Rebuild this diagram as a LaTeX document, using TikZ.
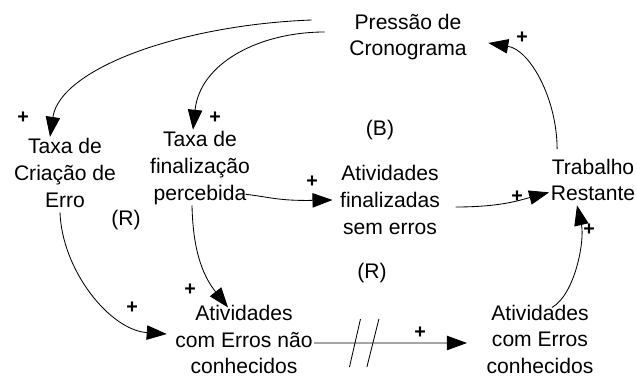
\documentclass[tikz,border=0pt]{standalone}
\usepackage{fontspec}
\setmainfont{Liberation Sans}
\usetikzlibrary{arrows.meta}
\usetikzlibrary{calc}

\begin{document}
\begin{tikzpicture}[
        every node/.style={font=\fontsize{15}{19}\selectfont},
        var/.style={align=center, inner sep=1pt},
        looplabel/.style={inner sep=1pt},
        sign/.style={font=\fontsize{14}{14}\selectfont\bfseries, inner sep=0pt},
        arrow/.style={-{Triangle[length=5mm,width=3.6mm]}, line width=0.6pt},
        delaymark/.style={line width=0.6pt}
    ]
    \useasboundingbox (0,0) rectangle (15.925,-9.45);

    % Variables
    \node[var] (press) at (10.2,-0.925) {Pressão de\\Cronograma};
    \node[var] (erro) at (1.625,-4.325) {Taxa de\\Criação de\\Erro};
    \node[var] (fin) at (5.0,-4.2) {Taxa de\\finalização\\percebida};
    \node[var] (sem) at (9.75,-5.0) {Atividades\\finalizadas\\sem erros};
    \node[var] (trab) at (14.825,-4.5) {Trabalho\\Restante};
    \node[var] (nao) at (6.1,-8.49) {Atividades\\com Erros não\\conhecidos};
    \node[var] (conh) at (13.5,-8.48) {Atividades\\com Erros\\conhecidos};

    % Loop labels
    \node[looplabel] (loopB) at (9.5,-3.25) {(B)};
    \node[looplabel] (loopR1) at (3.15,-5.5) {(R)};
    \node[looplabel] (loopR2) at (9.3,-6.825) {(R)};

    % Links
    \draw[arrow] ([shift={(-0.9,0.425)}]press.west) .. controls +(-3.3,-0.125) and +(0.25,1.7) .. ([xshift=-0.375cm]erro.north);
    \draw[arrow] ([shift={(-0.575,0.125)}]press.west) .. controls +(-1.625,0) and +(0.175,1.675) .. ([xshift=-0.175cm]fin.north);
    \draw[arrow] ([shift={(0.2,0.2)}]trab.north west) .. controls +(0,1.25) and +(1.05,-0.175) .. ([shift={(0.5,-0.15)}]press.east);
    \draw[arrow] ([shift={(-0.155,0.3)}]fin.south east) .. controls +(0.625,-0.075) and +(-1.325,-0.025) .. ([xshift=-0.15cm]sem.west);
    \draw[arrow] ([shift={(0.35,-0.175)}]sem.east) .. controls +(1.125,0) and +(-0.75,-0.2) .. ([yshift=0.26cm]trab.south west);
    \draw[arrow] ([shift={(0.3,-0.11)}]conh.north) .. controls +(0.575,0.325) and +(0.2,-0.875) .. ([shift={(-0.4,-0.065)}]trab.south);
    \draw[arrow] ([shift={(-0.125,-0.08)}]erro.south) .. controls +(0.05,-1.45) and +(-1.425,0.1) .. ([shift={(-0.175,0.14)}]nao.west);
    \draw[arrow] ([shift={(-0.2,0.02)}]fin.south) .. controls +(0.025,-1.25) and +(-0.575,0.725) .. ([shift={(-0.4,-0.1)}]nao.north);
    \draw[arrow] ([yshift=-0.085cm]nao.east) -- coordinate[pos=0.325] (delay) ([shift={(-0.45,-0.095)}]conh.west);

    % Delay
    \draw[delaymark] ($(delay)+(-0.36,-0.6)$) -- ($(delay)+(-0.085,0.6)$);
    \draw[delaymark] ($(delay)+(0.075,-0.6)$) -- ($(delay)+(0.375,0.6)$);

    % Polarities
    \node[sign] (s1) at (0.575,-2.95) {+};
    \node[sign] (s2) at (5.375,-2.95) {+};
    \node[sign] (s3) at (13.05,-0.95) {+};
    \node[sign] (s4) at (7.8,-4.55) {+};
    \node[sign] (s5) at (12.925,-4.925) {+};
    \node[sign] (s6) at (14.725,-5.75) {+};
    \node[sign] (s7) at (3.3,-7.7) {+};
    \node[sign] (s8) at (4.75,-7.25) {+};
    \node[sign] (s9) at (10.5,-8.325) {+};
\end{tikzpicture}
\end{document}
